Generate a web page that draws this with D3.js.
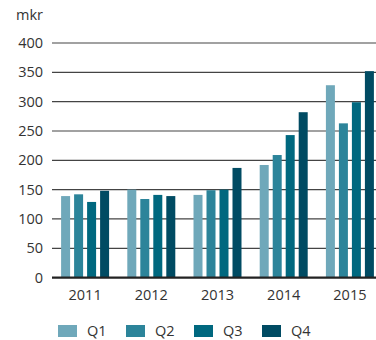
<!DOCTYPE html>
<html>
<head>
<meta charset="utf-8">
<script src="https://cdn.jsdelivr.net/npm/d3@7/dist/d3.min.js"></script>
<style>
  html, body { margin: 0; padding: 0; background: #fff; }
  svg { display: block; }
  text { font-family: "Open Sans", Lato, sans-serif; fill: #333; }
</style>
</head>
<body>
<svg id="chart" width="376" height="340"></svg>
<script>
// Quarterly figures, mkr
const years = ["2011", "2012", "2013", "2014", "2015"];
const quarters = ["Q1", "Q2", "Q3", "Q4"];
const q1 = [139, 150, 141, 192, 328];
const q2 = [142, 134, 149, 209, 263];
const q3 = [129, 141, 150, 243, 299];
const q4 = [148, 139, 187, 282, 352];
const yTicks = [0, 50, 100, 150, 200, 250, 300, 350, 400];
const unitLabel = "mkr";
const colors = ["#6fa8ba", "#2c849a", "#00687f", "#004b63"];

const series = [q1, q2, q3, q4];
const fontStack = "'Open Sans', Lato, sans-serif";

const svg = d3.select("#chart");
const plotLeft = 52, plotRight = 376, plotTop = 43, plotBottom = 277.6;

const y = d3.scaleLinear().domain([0, 400]).range([plotBottom, plotTop]);
const x0 = d3.scaleBand().domain(years).range([52, 383])
  .paddingInner(0.275).paddingOuter(0.1375);
const x1 = d3.scaleBand().domain(quarters).range([0, x0.bandwidth()])
  .paddingInner(4 / 13).paddingOuter(0);
const color = d3.scaleOrdinal().domain(quarters).range(colors);

// Horizontal gridlines
svg.append("g")
  .selectAll("line")
  .data(yTicks.filter(d => d > 0))
  .join("line")
  .attr("x1", plotLeft).attr("x2", plotRight)
  .attr("y1", d => y(d)).attr("y2", d => y(d))
  .attr("stroke", "#444").attr("stroke-width", 1.2);

// Y axis labels
const yAxis = d3.axisLeft(y).tickValues(yTicks).tickSize(0).tickPadding(0);
const gy = svg.append("g").attr("transform", `translate(${43},0)`).call(yAxis);
gy.select(".domain").remove();
gy.selectAll("text")
  .attr("font-size", 14.5).attr("fill", "#333")
  .style("font-family", fontStack);

svg.append("text")
  .attr("x", 43).attr("y", 20)
  .attr("text-anchor", "end")
  .attr("font-size", 14.5)
  .text(unitLabel);

// Bars
const groups = svg.append("g").selectAll("g")
  .data(years)
  .join("g")
  .attr("transform", d => `translate(${x0(d)},0)`);

groups.selectAll("rect")
  .data((yr, i) => quarters.map((q, j) => ({ q, v: series[j][i] })))
  .join("rect")
  .attr("x", d => x1(d.q))
  .attr("width", x1.bandwidth())
  .attr("y", d => y(d.v))
  .attr("height", d => y(0) - y(d.v))
  .attr("fill", d => color(d.q));

// Baseline
svg.append("line")
  .attr("x1", plotLeft).attr("x2", plotRight)
  .attr("y1", y(0)).attr("y2", y(0))
  .attr("stroke", "#222").attr("stroke-width", 2.2);

// X axis labels
const xAxis = d3.axisBottom(x0).tickSize(0).tickPadding(0);
const gx = svg.append("g").attr("transform", `translate(0,${300})`).call(xAxis);
gx.select(".domain").remove();
gx.selectAll("text")
  .attr("dy", 0)
  .attr("font-size", 14.5).attr("fill", "#333")
  .style("font-family", fontStack);

// Legend
const legend = svg.append("g").selectAll("g")
  .data(quarters)
  .join("g")
  .attr("transform", (d, i) => `translate(${58 + i * 68},325)`);
legend.append("rect")
  .attr("width", 19).attr("height", 12)
  .attr("fill", d => color(d));
legend.append("text")
  .attr("x", 29).attr("y", 11)
  .attr("font-size", 14.5)
  .text(d => d);
</script>
</body>
</html>
